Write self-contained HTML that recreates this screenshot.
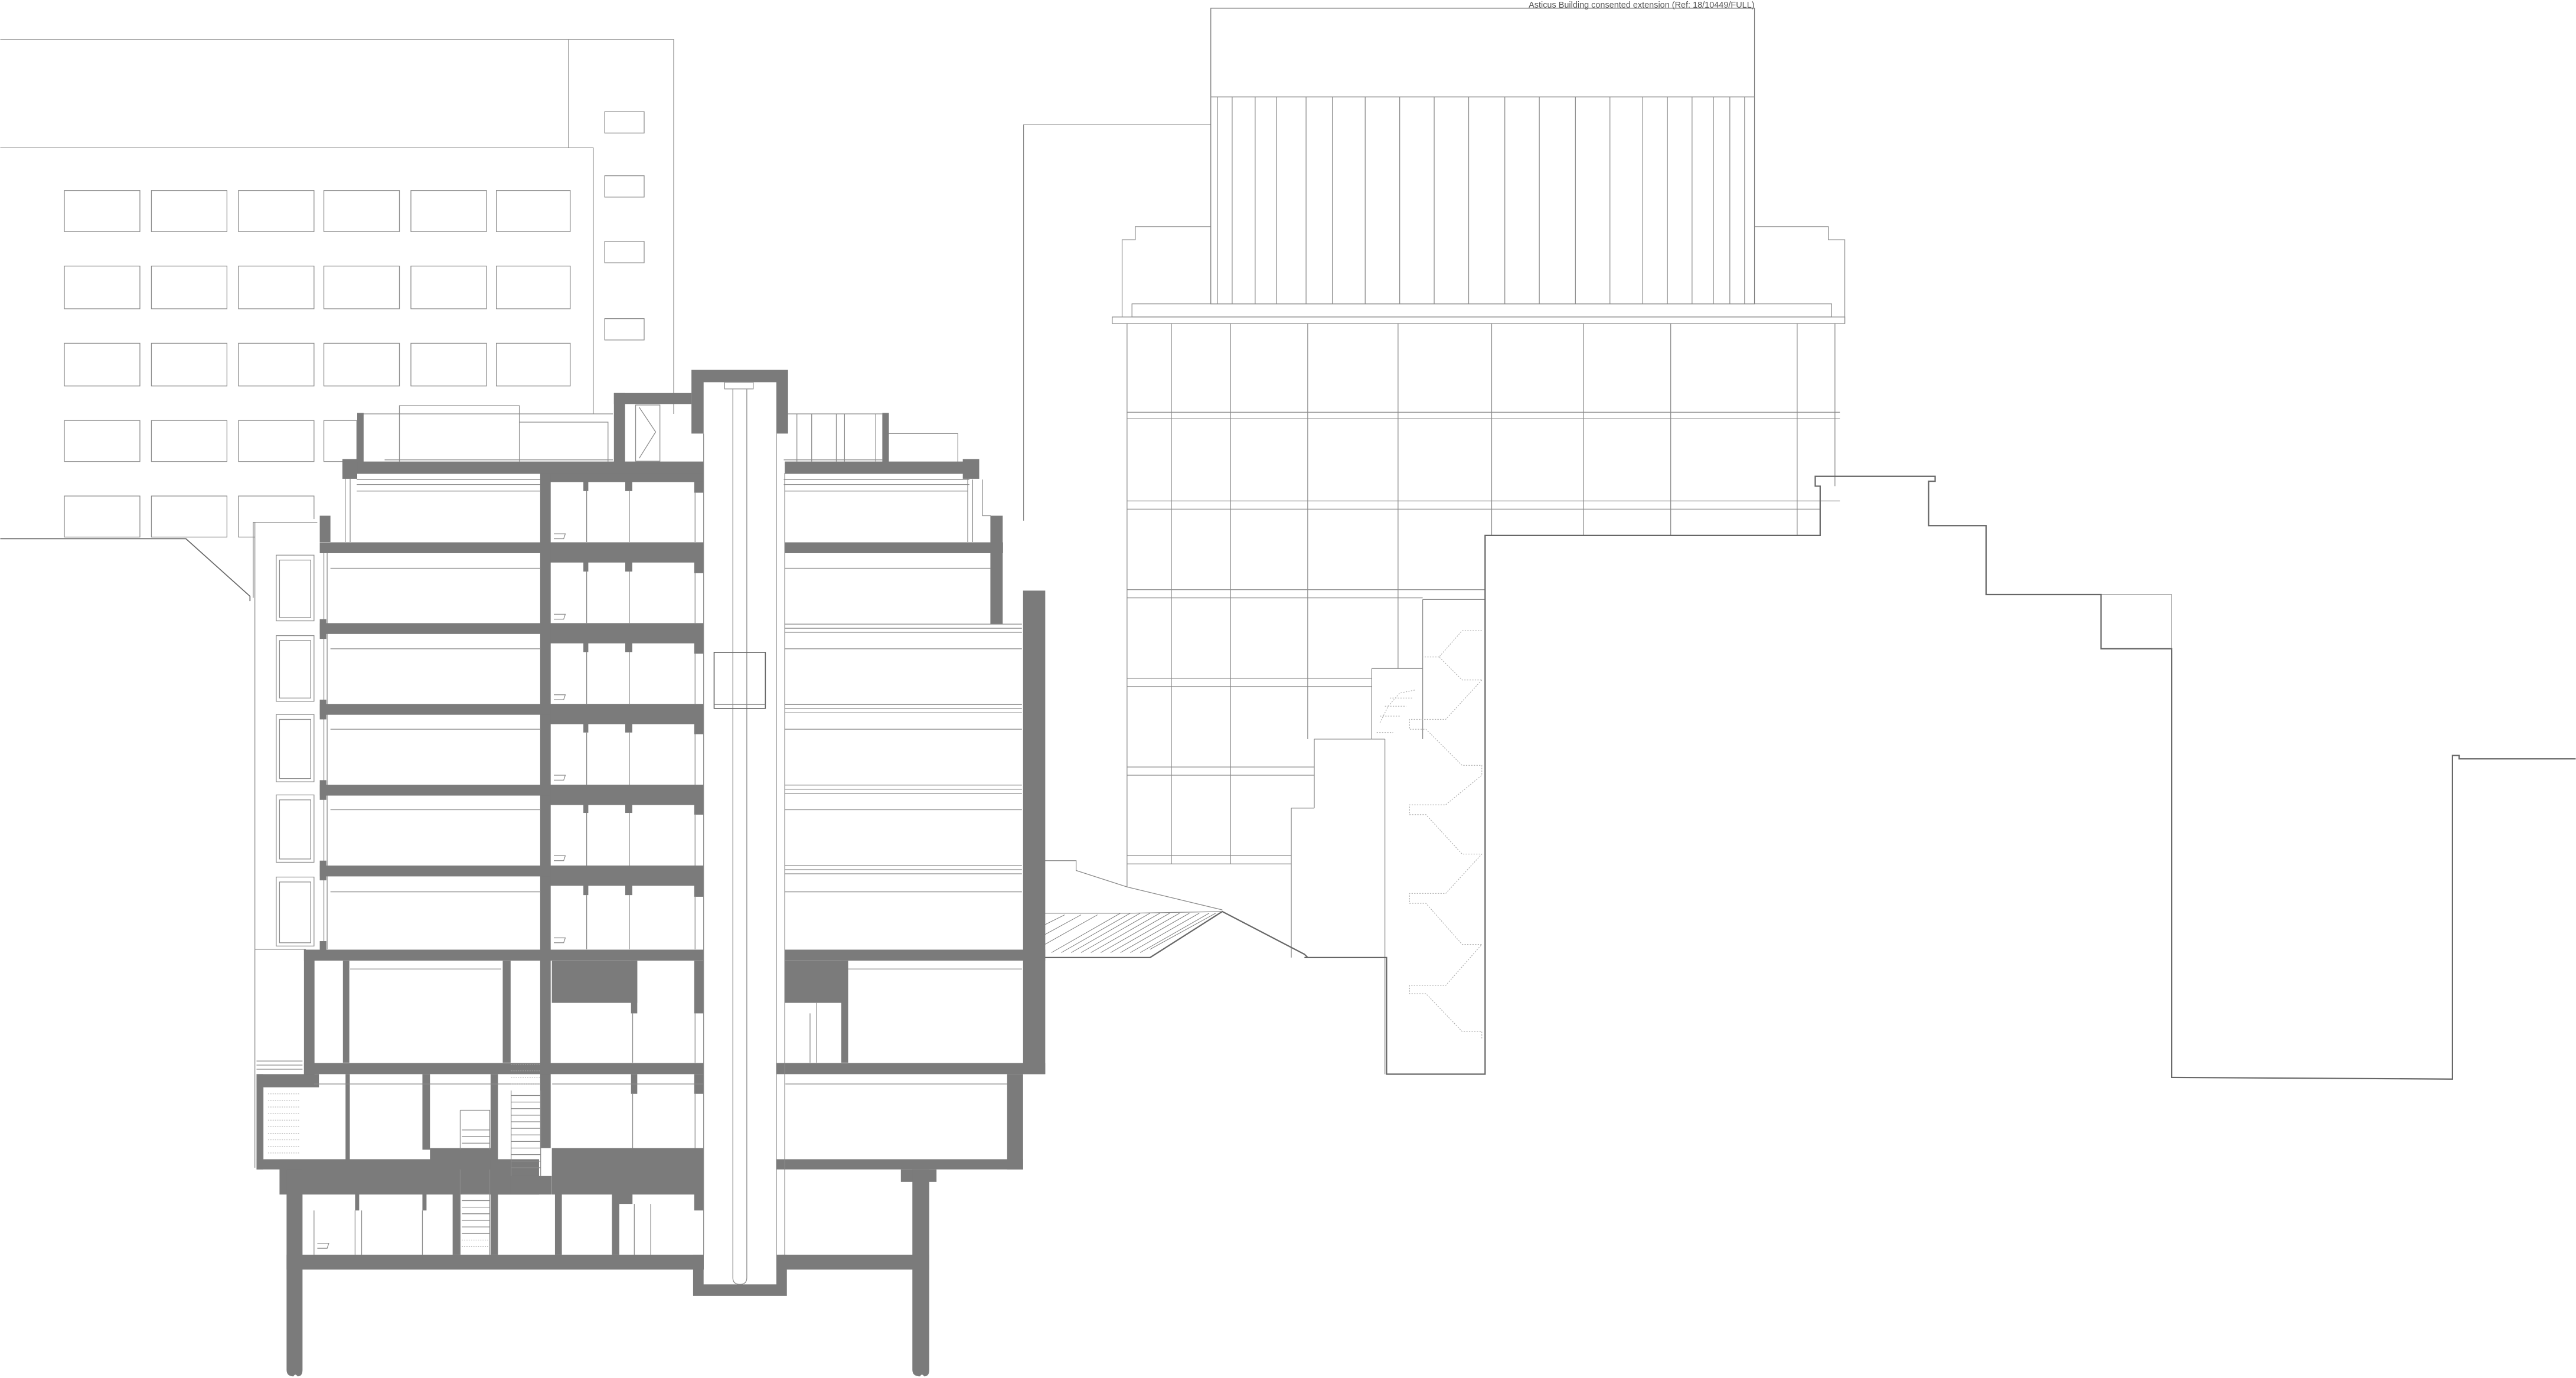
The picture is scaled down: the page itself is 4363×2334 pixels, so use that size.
<!DOCTYPE html>
<html><head><meta charset="utf-8"><style>
html,body{margin:0;padding:0;background:#fff;}
svg{display:block;}
</style></head><body>
<svg width="4363" height="2334" viewBox="0 0 1568 839" xmlns="http://www.w3.org/2000/svg">
<rect x="0" y="0" width="1568" height="839" fill="#fff"/>
<text x="1068" y="4.6" text-anchor="end" font-family="Liberation Sans, sans-serif" font-size="5.2" fill="#555">Asticus Building consented extension (Ref: 18/10449/FULL)</text>

<!-- Background left building -->
<g fill="none" stroke="#8a8a8a" stroke-width="0.45">
<path d="M0 24 H410 V252 M346 24 V90 M0 90 H361 V252"/>
<g>
<rect x="39" y="116" width="46" height="25"/><rect x="92" y="116" width="46" height="25"/><rect x="145" y="116" width="46" height="25"/><rect x="197" y="116" width="46" height="25"/><rect x="250" y="116" width="46" height="25"/><rect x="302" y="116" width="45" height="25"/>
<rect x="39" y="162" width="46" height="26"/><rect x="92" y="162" width="46" height="26"/><rect x="145" y="162" width="46" height="26"/><rect x="197" y="162" width="46" height="26"/><rect x="250" y="162" width="46" height="26"/><rect x="302" y="162" width="45" height="26"/>
<rect x="39" y="209" width="46" height="26"/><rect x="92" y="209" width="46" height="26"/><rect x="145" y="209" width="46" height="26"/><rect x="197" y="209" width="46" height="26"/><rect x="250" y="209" width="46" height="26"/><rect x="302" y="209" width="45" height="26"/>
<rect x="39" y="256" width="46" height="25"/><rect x="92" y="256" width="46" height="25"/><rect x="145" y="256" width="46" height="25"/><rect x="197" y="256" width="20" height="25"/>
<rect x="39" y="302" width="46" height="25"/><rect x="92" y="302" width="46" height="25"/><rect x="145" y="302" width="46" height="25"/>
<rect x="368" y="68" width="24" height="13"/><rect x="368" y="107" width="24" height="13"/><rect x="368" y="147" width="24" height="13"/><rect x="368" y="194" width="24" height="13"/>
</g>
</g>
<rect x="155" y="316" width="38" height="14" fill="#fff"/>
<path d="M0 328 H113 L152 363 L152 366" fill="none" stroke="#666" stroke-width="0.6"/>

<!-- Asticus building -->
<g fill="none" stroke="#8a8a8a" stroke-width="0.45">
<path d="M623 317 V76 H737"/>
<rect x="737" y="5" width="331" height="180" stroke="#777"/>
<path d="M737 59 H1068"/>
<path d="M741 59V185M750 59V185M764 59V185M777 59V185M795 59V185M811 59V185M831 59V185M852 59V185M873 59V185M894 59V185M916 59V185M937 59V185M959 59V185M980 59V185M1000 59V185M1015 59V185M1030 59V185M1043 59V185M1053 59V185M1062 59V185"/>
<path d="M683 193 V146 H691 V138 H737 M1068 138 H1113 V146 H1123 V197"/>
<rect x="689" y="185" width="426" height="8"/>
<rect x="677" y="193" width="446" height="4"/>
<path d="M686 197 V540 M713 197 V526 M749 197 V526 M796 197 V450 M851 197 V407 M908 197 V326 M964 197 V326 M1017 197 V326 M1094 197 V326 M1117 197 V296"/>
<path d="M686 251H1120M686 255H1120M686 305H1120M686 310H1108M686 359H904M686 364H866M686 413H835M686 418H835M686 467H800M686 472H800M686 521H786M686 526H786"/>
<path d="M866 365 H904 M866 365 V407 M835 407 H866 V450 M835 407 V450 M800 450 H843 M800 450 V492 M786 492 H800 M786 492 V583 M843 450 V654"/>
<path d="M1279 362 H1322 V395"/>
</g>
<g fill="none" stroke="#aaa" stroke-width="0.4" stroke-dasharray="0.8 0.8">
<path d="M902 384 L890 384 L876 400 L890 414 L902 414 M876 400 L866 400"/>
<path d="M902 414 L880 438 L858 438 L858 444 L868 444 L890 466 L902 466 L902 472 L880 490 L858 490 L858 496 L868 496 L890 520 L902 520 L880 544 L858 544 L858 550 L868 550 L890 575 L902 575 L880 600 L858 600 L858 605 L868 605 L890 628 L902 628 L902 633"/>
<path d="M840 440 L845 430 L852 422 L862 420 M838 446 L848 446 M840 436 L852 436 M843 430 L856 430 M846 425 L860 425"/>
</g>
<!-- heavy outline -->
<path d="M794 583 H844 V654 H904 V326 H1108 V296 H1105 V290 H1178 V293 H1174 V320 H1209 V362 H1279 V395 H1322 V656 L1493 657 V460 H1497 V462 H1568" fill="none" stroke="#666" stroke-width="0.8"/>
<path d="M636 583 H700 L744 555 L794 581 L796 583" fill="none" stroke="#666" stroke-width="0.8"/>
<path d="M636 556 H688 L744 555 M636 524 H655 V530 L686 540 L744 554" fill="none" stroke="#888" stroke-width="0.45"/>
<g stroke="#777" stroke-width="0.35">
<path d="M640 580 L682 556 M646 580 L688 556 M652 580 L694 556 M658 580 L700 556 M664 580 L706 556 M670 580 L712 556 M676 580 L718 556 M682 580 L724 556 M688 580 L730 556 M694 580 L736 556 M700 578 L740 556 M636 575 L668 557 M636 569 L658 557 M636 563 L648 557"/>
</g>

<!-- MAIN BUILDING -->
<g fill="none" stroke="#8a8a8a" stroke-width="0.45">
<path d="M154 364 V318 H193 M155 318 V711 M155 578 H186"/>
<rect x="168" y="338" width="23" height="40"/><rect x="170" y="341" width="19" height="35"/>
<rect x="168" y="387" width="23" height="40"/><rect x="170" y="390" width="19" height="35"/>
<rect x="168" y="435" width="23" height="41"/><rect x="170" y="438" width="19" height="36"/>
<rect x="168" y="484" width="23" height="41"/><rect x="170" y="487" width="19" height="36"/>
<rect x="168" y="534" width="23" height="42"/><rect x="170" y="537" width="19" height="37"/>
<path d="M197 336 V578 M199 336 V578"/>
</g>
<g fill="none" stroke="#8a8a8a" stroke-width="0.45">
<path d="M221 252 H373 M243 281 V247 H316 V281 M316 257 H370 V281 M234 280 H373"/>
<path d="M477 252 H537 M485 252 V281 M494 252 V281 M509 252 V281 M514 252 V281 M533 252 V281 M541 264 H583 V284 M477 280 H537"/>
<path d="M210 288 V330 M213 288 V330 M589 288 V330 M592 292 V330 M598 292 V314 H603"/>
<path d="M386.8 246.6 H401.6 V280.8 H386.8 Z M389 248 L399 263 L389 279"/>
<path d="M217 292 H329 M217 295 H329 M336 292 H420 M477 292 H590 M477 295 H590"/>
</g>
<g fill="#7b7b7b">
<path d="M420.8 225.2 H479.6 V264 H472.5 V232.7 H428.2 V264 H420.8 Z"/>
<rect x="373.6" y="239.3" width="47.2" height="6.7"/>
<rect x="373.6" y="239.3" width="6.8" height="42"/>
<rect x="422" y="246" width="6" height="5"/>
<rect x="208.3" y="281" width="220" height="7.5"/>
<rect x="477.6" y="281" width="118" height="7.5"/>
<rect x="217.3" y="251.4" width="3.9" height="30"/>
<rect x="537" y="251.4" width="4" height="30"/>
<rect x="208.3" y="279.5" width="9" height="12"/>
<rect x="586" y="279.5" width="10" height="12"/>
<rect x="194.5" y="314" width="6.5" height="16"/>
<rect x="602.8" y="314" width="7.5" height="66"/>
<rect x="328.7" y="288" width="6.4" height="411"/>
<rect x="194.5" y="330.2" width="233.7" height="6.6"/>
<rect x="194.5" y="379.4" width="233.7" height="6.6"/>
<rect x="194.5" y="428.6" width="233.7" height="6.6"/>
<rect x="194.5" y="477.8" width="233.7" height="6.6"/>
<rect x="194.5" y="527" width="233.7" height="6.6"/>
<rect x="335" y="288" width="93.2" height="5.5"/>
<rect x="335" y="330.2" width="93.2" height="12.3"/>
<rect x="335" y="379.4" width="93.2" height="12.3"/>
<rect x="335" y="428.6" width="93.2" height="12.3"/>
<rect x="335" y="477.8" width="93.2" height="12.3"/>
<rect x="335" y="527" width="93.2" height="12.3"/>
<rect x="355" y="293" width="3" height="6"/><rect x="380.5" y="293" width="4.3" height="6"/><rect x="422.5" y="293" width="5.7" height="7"/>
<rect x="355" y="342" width="3" height="6"/><rect x="380.5" y="342" width="4.3" height="6"/><rect x="422.5" y="342" width="5.7" height="7"/>
<rect x="355" y="391" width="3" height="6"/><rect x="380.5" y="391" width="4.3" height="6"/><rect x="422.5" y="391" width="5.7" height="7"/>
<rect x="355" y="440" width="3" height="6"/><rect x="380.5" y="440" width="4.3" height="6"/><rect x="422.5" y="440" width="5.7" height="7"/>
<rect x="355" y="489" width="3" height="6"/><rect x="380.5" y="489" width="4.3" height="6"/><rect x="422.5" y="489" width="5.7" height="7"/>
<rect x="355" y="539" width="3" height="6"/><rect x="380.5" y="539" width="4.3" height="6"/><rect x="422.5" y="539" width="5.7" height="7"/>
<rect x="194.5" y="377" width="4" height="12"/><rect x="194.5" y="426" width="4" height="12"/><rect x="194.5" y="475" width="4" height="12"/><rect x="194.5" y="524" width="4" height="12"/><rect x="194.5" y="573" width="4" height="8"/>
<rect x="477.6" y="330.2" width="132.9" height="6.6"/>
<rect x="622.7" y="359.6" width="13.5" height="294.4"/>
<rect x="184.9" y="578.2" width="243.3" height="6.7"/>
<rect x="477.6" y="578.2" width="158.6" height="6.7"/>
<rect x="184.9" y="578.2" width="6.4" height="76"/>
<rect x="208.6" y="585" width="3.9" height="62"/>
<rect x="305.9" y="585" width="4.8" height="62"/>
<rect x="335.8" y="585" width="52" height="25.6"/>
<rect x="384" y="585" width="3.8" height="32"/>
<rect x="422.5" y="585" width="5.7" height="32"/>
<rect x="477.6" y="585" width="38.6" height="25.6"/>
<rect x="512" y="585" width="4.2" height="62"/>
<rect x="184.9" y="647.2" width="243.3" height="6.8"/>
<rect x="472.5" y="647.2" width="163.7" height="6.8"/>
<rect x="156" y="654" width="38" height="8"/>
<rect x="156" y="654" width="4" height="58"/>
<rect x="210.2" y="654" width="2.6" height="52"/>
<rect x="257" y="654" width="4.6" height="46"/>
<rect x="298.5" y="654" width="4.5" height="52"/>
<rect x="384" y="654" width="3.8" height="12"/>
<rect x="422.5" y="654" width="5.7" height="12"/>
<rect x="261.6" y="699" width="37" height="7"/>
<rect x="335.8" y="699" width="92.4" height="28.3"/>
<rect x="156" y="705.8" width="124" height="6.2"/>
<rect x="170" y="705.8" width="158" height="21.5"/>
<rect x="298.5" y="705.8" width="12.2" height="21.5"/>
<rect x="310.7" y="716" width="25" height="11.3"/>
<rect x="472.5" y="705.8" width="150.2" height="6.2"/>
<rect x="613" y="654" width="9.7" height="58"/>
<rect x="548.3" y="712" width="21.7" height="7.6"/>
<path d="M174.3 712 H184 V834 Q184 838 181 838 Q179.5 836 178.5 838 Q174.3 838 174.3 834 Z"/>
<path d="M555.3 712 H565.6 V834 Q565.6 838 562.5 838 Q561 836 560 838 Q555.3 838 555.3 834 Z"/>
<rect x="275.4" y="727" width="4.6" height="37"/>
<rect x="298.5" y="727" width="4.5" height="37"/>
<rect x="337.7" y="727" width="4.2" height="37"/>
<rect x="372.4" y="727" width="4.5" height="37"/>
<rect x="216" y="727" width="2.5" height="10"/>
<rect x="257" y="727" width="2.5" height="10"/>
<rect x="376.9" y="727" width="8" height="6"/>
<rect x="422.5" y="727" width="5.7" height="10"/>
<rect x="174.3" y="764" width="254" height="9"/>
<rect x="476" y="764" width="89.6" height="9"/>
<path d="M421.8 764 H428.2 V782 H472.5 V764 H478.9 V789 H421.8 Z"/>
<rect x="472.5" y="764" width="5" height="9"/>
</g>

<g fill="none" stroke="#8a8a8a" stroke-width="0.45">
<path d="M428.2 264 V764 M472.5 264 V764 M477.6 288 V764"/>
<path d="M446 237 V778 Q446 782 450.3 782 Q454.5 782 454.5 778 V237"/>
<rect x="441" y="232.7" width="17.4" height="4.1"/>
<rect x="434.6" y="397.2" width="31.2" height="34.1" stroke="#666" stroke-width="0.6"/>
<path d="M434.6 429 H465.8"/>
<path d="M201 346 H329 M201 395 H329 M201 444 H329 M201 493 H329 M201 543 H329 M217 299 H329"/>
<path d="M477.6 299 H589 M477.6 346 H603 M477.6 380 H622 M477.6 382.5 H622 M477.6 385 H622 M477.6 395 H622"/>
<path d="M477.6 429 H622 M477.6 431.5 H622 M477.6 434 H622 M477.6 444 H622"/>
<path d="M477.6 478 H622 M477.6 480.5 H622 M477.6 483 H622 M477.6 493 H622"/>
<path d="M477.6 527 H622 M477.6 529.5 H622 M477.6 532 H622 M477.6 543 H622"/>
<path d="M357 348 V380 M383 348 V380 M357 397 V429 M383 397 V429 M357 446 V478 M383 446 V478 M357 495 V527 M383 495 V527 M357 545 V578 M383 545 V578 M357 299 V330 M383 299 V330"/>
<path d="M423 300 V330 M423 349 V380 M423 398 V429 M423 447 V478 M423 496 V527 M423 546 V578 M423 617 V647 M423 666 V699"/>
<path d="M337 325 h7 l-1 3 h-6 M337 374 h7 l-1 3 h-6 M337 423 h7 l-1 3 h-6 M337 472 h7 l-1 3 h-6 M337 521 h7 l-1 3 h-6 M337 571 h7 l-1 3 h-6 M193 757 h7 l-1 3 h-6"/>
<path d="M213 590 H305 M516 590 H622 M385 617 V647 M497 610 V647 M493 617 V647"/>
<path d="M160 662 V706 M191 737 V764 M220 737 V764 M257 737 V764 M386 733 V764 M396 733 V764 M216 737 V764 M478 660 H613 M191 660 H329 M336 660 H428 M385 666 V699"/>
<path d="M156 646 H184 M156 648.5 H184 M156 651 H184"/>
<path d="M311 664 V716 M329 664 V716 M311 667 H329 M311 671 H329 M311 675 H329 M311 679 H329 M311 683 H329 M311 687 H329 M311 691 H329 M311 695 H329 M311 699 H329 M311 703 H329 M311 707 H329 M311 711 H329"/>
<path d="M280 712 V764 M298 712 V764 M281 727 H298 M281 731 H298 M281 735 H298 M281 739 H298 M281 743 H298 M281 747 H298 M281 751 H298"/>
<path d="M280 676 H298 V700 M280 676 V700 M281 688 H298 M281 692 H298 M281 696 H298"/>
</g>
<g fill="none" stroke="#aaa" stroke-width="0.35" stroke-dasharray="0.7 0.7">
<path d="M163 666 H182 M163 670 H182 M163 674 H182 M163 678 H182 M163 682 H182 M163 686 H182 M163 690 H182 M163 694 H182 M163 698 H182 M163 702 H182"/>
<path d="M311 648 H329 M311 652 H329 M311 656 H329 M311 660 H329 M281 755 H298 M281 759 H298"/>
</g>
</svg>
</body></html>
